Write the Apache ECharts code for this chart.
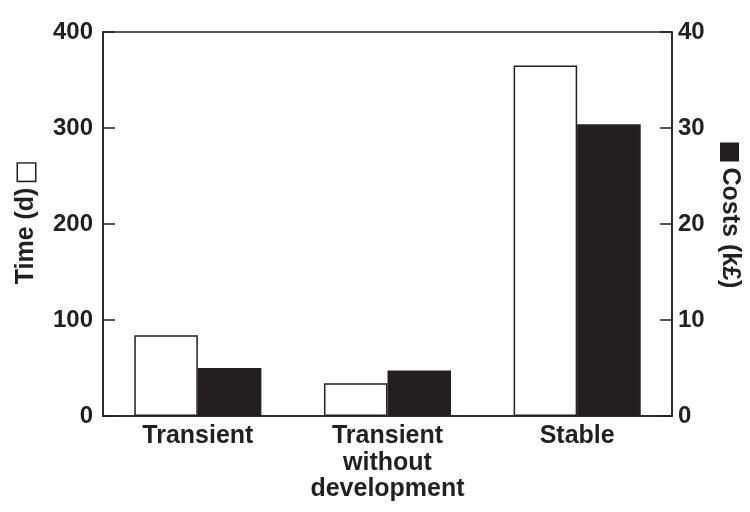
<!DOCTYPE html>
<html>
<head>
<meta charset="utf-8">
<script src="https://cdn.jsdelivr.net/npm/echarts@6/dist/echarts.min.js"></script>
<style>
  html, body { margin: 0; padding: 0; background: #fff; }
  #chart { width: 750px; height: 512px; }
</style>
</head>
<body>
<div id="chart"></div>
<script>
// Scenario categories
const categories = ['Transient', 'Transient\nwithout\ndevelopment', 'Stable'];
// Duration in days (left axis, open bars)
const timeDays = [84, 34, 365];
// Cost in thousands of pounds (right axis, filled bars)
const costsK = [5.0, 4.75, 30.4];
// Axis ranges
const timeAxis = { min: 0, max: 400, step: 100 };
const costAxis = { min: 0, max: 40, step: 10 };

const ink = '#231f20';
const font = 'Liberation Sans, Arial, Helvetica, sans-serif';

const chart = echarts.init(document.getElementById('chart'), null, { renderer: 'canvas' });

const tickStyle = { color: ink, fontFamily: font, fontWeight: 'bold', fontSize: 24 };
const textStyle = { color: ink, fontFamily: font, fontWeight: 'bold', fontSize: 25 };

chart.setOption({
  animation: false,
  backgroundColor: '#fff',
  grid: {
    left: 103, right: 70, top: 32, bottom: 96,
    show: true, borderColor: ink, borderWidth: 1.5, backgroundColor: 'transparent'
  },
  xAxis: {
    type: 'category',
    data: categories,
    axisLine: { show: true, lineStyle: { color: ink, width: 1.5 } },
    axisTick: { show: false },
    axisLabel: Object.assign({}, textStyle, { margin: 7, lineHeight: 26.5, interval: 0 })
  },
  yAxis: [
    {
      type: 'value',
      min: timeAxis.min, max: timeAxis.max, interval: timeAxis.step,
      position: 'left',
      name: 'Time (d) {w|}',
      nameLocation: 'middle',
      nameGap: 64,
      nameTextStyle: Object.assign({}, textStyle, {
        rich: {
          w: { width: 17, height: 17, backgroundColor: '#fff', borderColor: ink, borderWidth: 1.5 }
        }
      }),
      axisLine: { show: true, lineStyle: { color: ink, width: 1.5 } },
      axisTick: { show: true, inside: true, length: 12, lineStyle: { color: ink, width: 1.5 } },
      axisLabel: Object.assign({}, tickStyle, { margin: 10 }),
      splitLine: { show: false }
    },
    {
      type: 'value',
      min: costAxis.min, max: costAxis.max, interval: costAxis.step,
      position: 'right',
      name: '{b|} Costs (k£)',
      nameLocation: 'middle',
      nameRotate: -90,
      nameGap: 45,
      nameTextStyle: Object.assign({}, textStyle, {
        padding: [0, 16, 0, 0],
        rich: {
          b: { width: 17, height: 17, backgroundColor: ink, borderColor: ink, borderWidth: 1 }
        }
      }),
      axisLine: { show: true, lineStyle: { color: ink, width: 1.5 } },
      axisTick: { show: true, inside: true, length: 12, lineStyle: { color: ink, width: 1.5 } },
      axisLabel: Object.assign({}, tickStyle, { margin: 6 }),
      splitLine: { show: false }
    }
  ],
  series: [
    {
      name: 'Time (d)',
      type: 'bar',
      yAxisIndex: 0,
      data: timeDays,
      barGap: '0%',
      barCategoryGap: '33%',
      itemStyle: { color: '#fff', borderColor: ink, borderWidth: 1.5 }
    },
    {
      name: 'Costs (k£)',
      type: 'bar',
      yAxisIndex: 1,
      data: costsK,
      itemStyle: { color: ink, borderColor: ink, borderWidth: 1.5 }
    }
  ]
});
</script>
</body>
</html>
